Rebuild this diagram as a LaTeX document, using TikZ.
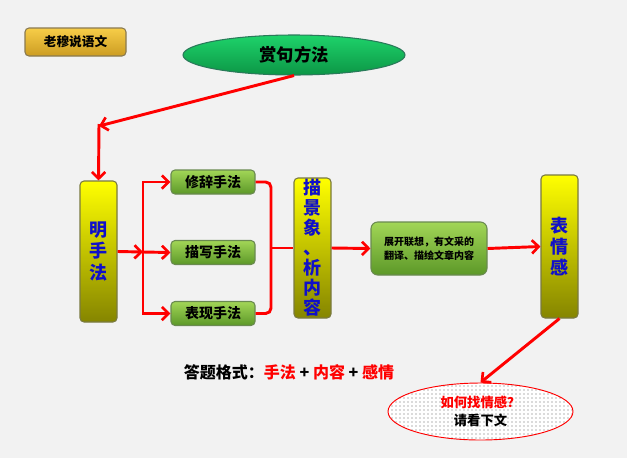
\documentclass[tikz,border=0pt]{standalone}
\usepackage{fontspec}
\setmainfont{Noto Sans CJK SC}
\usepackage{xcolor}
\usetikzlibrary{arrows.meta,shapes.geometric,patterns,positioning}

\definecolor{bgray}{HTML}{F2F2F2}
\definecolor{goldtop}{HTML}{F7CD48}
\definecolor{goldbot}{HTML}{CC9C22}
\definecolor{goldline}{HTML}{8A7A50}
\definecolor{ovaltop}{HTML}{1ED36A}
\definecolor{ovalbot}{HTML}{0C9646}
\definecolor{ovalline}{HTML}{2A7A5A}
\definecolor{ytop}{HTML}{FFFF00}
\definecolor{ymid}{HTML}{F2F200}
\definecolor{ybot}{HTML}{858500}
\definecolor{yline}{HTML}{7A7A40}
\definecolor{gtop}{HTML}{A2D657}
\definecolor{gbot}{HTML}{5C9828}
\definecolor{gline}{HTML}{6A8A50}
\definecolor{tblue}{HTML}{1010C8}
\definecolor{ared}{HTML}{FF0000}

\tikzset{
    tallbox/.style={draw=yline, rounded corners=3pt, top color=ytop, middle color=ymid, bottom color=ybot,
        minimum width=27.75pt, inner sep=0pt, align=center, text=tblue,
        font=\fontsize{13.5}{15}\selectfont\bfseries},
    methbox/.style={draw=gline, rounded corners=3pt, top color=gtop, bottom color=gbot,
        minimum width=63pt, minimum height=18pt, inner sep=0pt,
        font=\fontsize{10.5}{12}\selectfont\bfseries},
    redline/.style={draw=ared, line width=2.2pt},
    redarrow/.style={redline, -{Straight Barb[length=5pt,width=10pt,line width=2pt]}}
}

\begin{document}
\begin{tikzpicture}[x=0.75pt, y=-0.75pt, thick]
    \useasboundingbox (0,0) rectangle (627,458);
    \fill[bgray] (0,0) rectangle (627,458);

    % Title nodes
    \node[draw=goldline, rounded corners=3pt, top color=goldtop, bottom color=goldbot,
        minimum width=75.75pt, minimum height=21pt, inner sep=0pt,
        font=\fontsize{9.5}{11}\selectfont\bfseries] (laomu) at (75.5,42) {老穆说语文};
    \node[draw=ovalline, ellipse, top color=ovaltop, bottom color=ovalbot,
        minimum width=166.5pt, minimum height=30pt, inner sep=0pt,
        font=\fontsize{13}{15}\selectfont\bfseries] (shangju) at (294,55) {赏句方法};

    % Main boxes
    \node[tallbox, minimum height=105.75pt, font=\fontsize{13.5}{16}\selectfont\bfseries] (ming) at (98.5,251.5) {明\\手\\法};
    \node[methbox] (xiuci) at (213,182) {修辞手法};
    \node[methbox] (miaoxie) at (213,252.5) {描写手法};
    \node[methbox] (biaoxian) at (213,313.5) {表现手法};
    \node[tallbox, minimum height=105pt] (miaojing) at (312.5,248) {描\\景\\象\\、\\析\\内\\容};
    \node[draw=gline, rounded corners=5pt, top color=gtop, bottom color=gbot,
        minimum width=87pt, minimum height=39.75pt, inner sep=0pt, align=center,
        font=\fontsize{7.5}{11}\selectfont\bfseries] (zhankai) at (429,248.5)
        {展开联想，有文采的\\翻译、描绘文章内容};
    \node[tallbox, minimum height=107.25pt, font=\fontsize{13.5}{16}\selectfont\bfseries] (biaoqing) at (559.5,246.5) {表\\情\\感};

    % Answer format
    \node[font=\fontsize{12}{14}\selectfont\bfseries] (geshi) at (289,372)
        {答题格式：\textcolor{ared}{手法} + \textcolor{ared}{内容} + \textcolor{ared}{感情}};
    \node[draw=ared, ellipse, line width=0.7pt, preaction={fill=white},
        pattern=dots, pattern color=black!60,
        minimum width=138.75pt, minimum height=42.75pt, inner sep=0pt, align=center,
        font=\fontsize{10}{13}\selectfont\bfseries] (ruhe) at (480.5,411.5)
        {\textcolor{ared}{如何找情感？}\\请看下文};

    % Connectors
    \coordinate (bend) at (99,126);
    \coordinate (split) at (143,252);
    \coordinate (brace) at (271,248);
    \draw[redarrow] (shangju.south) -- (bend);
    \draw[redarrow] ([yshift=1.5pt]bend) -- (ming.north);
    \draw[redarrow] (ming.east) -- (split);
    \draw[redarrow] (split) |- (xiuci.west);
    \draw[redarrow] (split) -- (miaoxie.west);
    \draw[redarrow] (split) |- (biaoxian.west);
    \draw[redline, rounded corners=4pt] (xiuci.east) -| (brace) |- (biaoxian.east);
    \draw[redline] (brace) -- (miaojing.west);
    \draw[redarrow] (miaojing.east) -- (zhankai.west);
    \draw[redarrow] (zhankai.east) -- (biaoqing.west);
    \draw[redarrow] (biaoqing.south) -- (ruhe.north);
\end{tikzpicture}
\end{document}
